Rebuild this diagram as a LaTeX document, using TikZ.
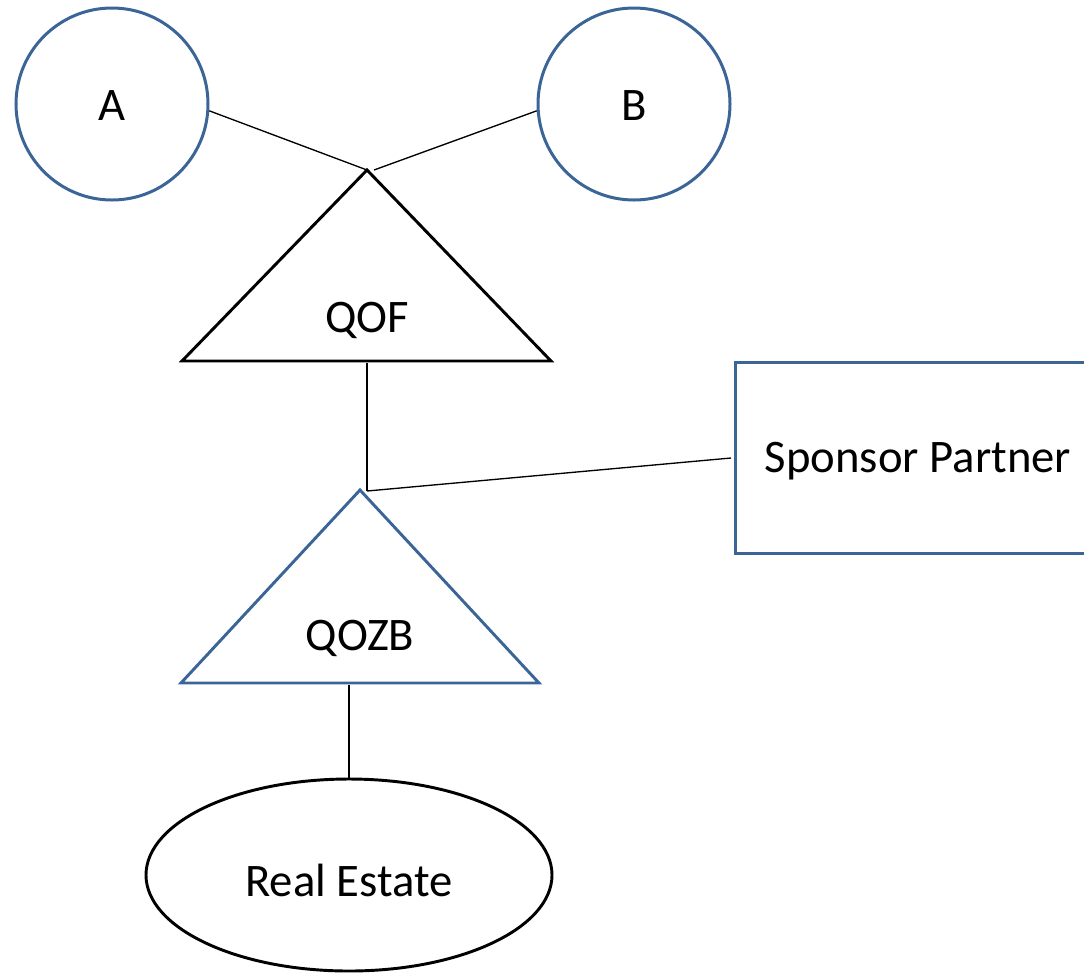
\documentclass[tikz,border=0pt]{standalone}
\usepackage{fontspec}
\setmainfont{Carlito}
\usetikzlibrary{shapes.geometric}
\definecolor{oblue}{HTML}{3A6596}
\tikzset{
  lbl/.style={font=\fontsize{35}{42}\selectfont, inner sep=0pt},
  bluecirc/.style={draw=oblue, line width=2.25pt, circle, minimum size=144pt, inner sep=0pt},
  thick line/.style={line width=2.2pt, line join=miter},
  conn/.style={line width=1pt, black},
}
\begin{document}
\begin{tikzpicture}[x=0.75pt,y=-0.75pt]
\useasboundingbox (0,0) rectangle (1084,972);
% circles
\node[bluecirc] (A) at (112,104) {};
\node[lbl] at (112,106) {A};
\node[bluecirc] (B) at (634,104) {};
\node[lbl] at (634,106) {B};
% QOF triangle
\coordinate (qoftop) at (367,170);
\coordinate (qofl) at (182,361);
\coordinate (qofr) at (551,361);
\coordinate (qofbot) at (367,363);
\draw[thick line, black] (qoftop) -- (qofr) -- (qofl) -- cycle;
\node[lbl] (qof) at (367,320) {QOF};
% QOZB triangle
\coordinate (qozbtop) at (360,490);
\coordinate (qozbl) at (181,683);
\coordinate (qozbr) at (539,683);
\coordinate (qozbbot) at (349,685);
\draw[thick line, oblue] (qozbtop) -- (qozbr) -- (qozbl) -- cycle;
\node[lbl] (qozb) at (360,638) {QOZB};
% sponsor rectangle (cut at right edge)
\draw[oblue, line width=2.25pt] (1100,362) -- (735,362) -- (735,553) -- (1100,553);
\coordinate (spleft) at (731,458);
\node[lbl] (sp) at (918,461) {Sponsor Partner};
% real estate ellipse
\node[draw, black, line width=2.2pt, ellipse, minimum width=304.5pt, minimum height=144pt, inner sep=0pt] (re) at (349,875) {};
\node[lbl] at (349,880) {Real Estate};
% connectors
\coordinate (bend) at (374,170);
\coordinate (mid) at (367,491);
\draw[conn] (A.-4) -- (qoftop);
\draw[conn] (B.184) -- (bend);
\draw[conn] (qofbot) -- (mid);
\draw[conn] (mid) -- (spleft);
\draw[conn] (qozbbot) -- (re.north);
\end{tikzpicture}
\end{document}
